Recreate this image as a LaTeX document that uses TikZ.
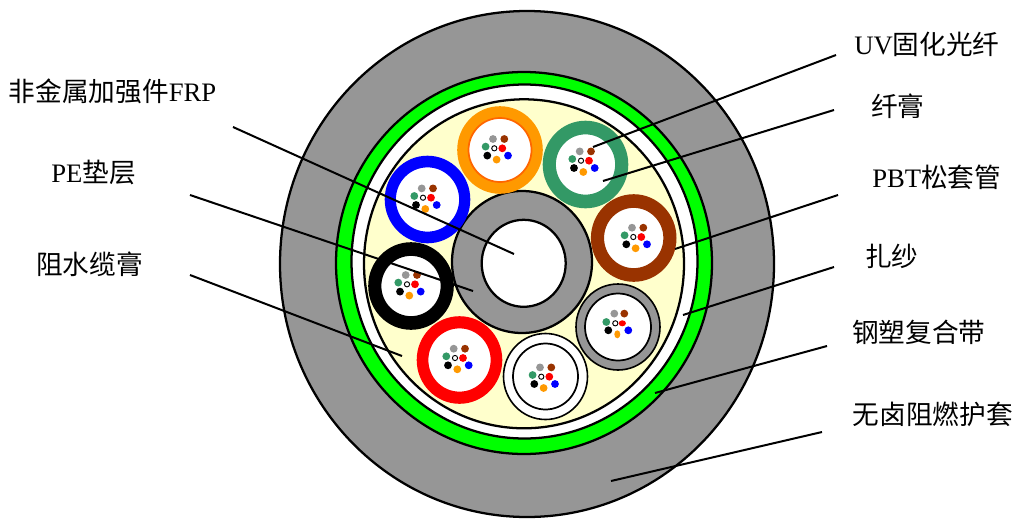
\documentclass[tikz,border=0pt]{standalone}
\usepackage{fontspec}
\setmainfont{Liberation Serif}
\newfontfamily\zh{Noto Sans CJK SC}
\usepackage{xcolor}
\usepackage{tikz}
\usetikzlibrary{shapes.geometric}
\definecolor{jacket}{RGB}{150,150,150}
\definecolor{tape}{RGB}{0,255,0}
\definecolor{gel}{RGB}{255,255,204}
\definecolor{torange}{RGB}{255,153,0}
\definecolor{tedge}{RGB}{255,102,0}
\definecolor{tgreen}{RGB}{51,153,102}
\definecolor{tbrown}{RGB}{153,51,0}
\definecolor{tblue}{RGB}{0,0,255}
\definecolor{tred}{RGB}{255,0,0}

\begin{document}
\begin{tikzpicture}[x=0.75pt,y=-0.75pt,
  layer/.style={ellipse,draw,line width=1.7pt,inner sep=0pt,outer sep=0pt},
  lbl/.style={anchor=base west,inner sep=0pt,font=\fontsize{20}{22}\selectfont},
  leader/.style={line width=1.5pt}]
  \useasboundingbox (0,0) rectangle (1013,518);
  % sheath, tape, gel
  \node[layer,fill=jacket,minimum width=494*0.75pt,minimum height=506*0.75pt] (JKT) at (527,264) {};
  \node[layer,fill=tape,minimum width=376*0.75pt,minimum height=382*0.75pt] (TAP) at (524,263) {};
  \node[layer,fill=white,minimum width=346*0.75pt,minimum height=354*0.75pt] (WRP) at (524.5,261.5) {};
  \node[layer,fill=gel,minimum width=320*0.75pt,minimum height=329*0.75pt] (GEL) at (524,263.8) {};
  % centre member
  \node[layer,fill=jacket,minimum width=140*0.75pt,minimum height=142*0.75pt] (PAD) at (522,262) {};
  \node[layer,fill=white,minimum width=84*0.75pt,minimum height=87*0.75pt] (FRP) at (523.7,263.3) {};
  % loose tubes: outer fill, outer edge, inner edge, inner width, fibre centre
  \foreach \n/\cx/\cy/\c/\e/\i/\w/\fx/\fy in {
      O/500/150/torange/torange/tedge/63/494.3/148.3,
      B/427.5/199.5/tblue/tblue/tblue/65/423/197.7,
      G/585.5/164.5/tgreen/tgreen/tgreen/61/581/160.7,
      N/633.7/238/tbrown/tbrown/tbrown/61/633.3/237,
      K/411/286/black/black/black/61/407/284.3,
      R/459.5/360/tred/tred/tred/64/455/358,
      W/545.5/376.5/white/black/black/65/541.3/376.7,
      A/618/327/jacket/black/black/66/615.3/323.3} {
    \node[ellipse,inner sep=0pt,fill=\c,draw=\e,line width=1.2pt,minimum width=84*0.75pt,minimum height=86*0.75pt] (T\n) at (\cx,\cy) {};
    \node[ellipse,inner sep=0pt,fill=white,draw=\i,line width=1.3pt,minimum width=\w*0.75pt,minimum height=(\w+1)*0.75pt] (I\n) at (\cx,\cy) {};
    \draw[fill=white,line width=0.7pt] (\fx,\fy) circle (2.6);
  }
  % fibres
  \foreach \fx/\fy in {494.3/148.3,423/197.7,581/160.7,633.3/237,407/284.3,455/358,541.3/376.7} {
    \foreach \dx/\dy/\c in {-1.3/-9.3/jacket,10/-9.3/tbrown,-8.7/-1.7/tgreen,8/0/tred,-7/7.3/black,2.3/11.3/torange,13.7/7.3/tblue} {
      \fill[\c] (\fx+\dx,\fy+\dy) circle (3.9);
    }
  }
  % fibres of the grey tube are squeezed
  \foreach \dx/\dy/\c/\rx/\ry in {-1/-9.7/jacket/3.9/3.9,9/-9.7/tbrown/3.9/3.9,-9/-1.3/tgreen/3.9/3.9,7/0/tred/3.6/3,-7/7/black/3.9/3.9,2/11/torange/3/4,13/7/tblue/3.9/3.9} {
    \fill[\c] (615.3+\dx,323.3+\dy) ellipse ({\rx} and {\ry});
  }
  % labels
  \node[lbl] (LFRP) at (8.5,101.5) {{\zh 非金属加强件}FRP};
  \node[lbl] (LPE) at (51,182.5) {PE{\zh 垫层}};
  \node[lbl] (LGEL) at (36,274.5) {{\zh 阻水缆膏}};
  \node[lbl] (LUV) at (854,54.5) {UV{\zh 固化光纤}};
  \node[lbl] (LFIB) at (871,116.5) {{\zh 纤膏}};
  \node[lbl] (LPBT) at (872,187.5) {PBT{\zh 松套管}};
  \node[lbl] (LYRN) at (865,266.5) {{\zh 扎纱}};
  \node[lbl] (LTAP) at (852,342.5) {{\zh 钢塑复合带}};
  \node[lbl] (LJKT) at (852.5,424.5) {{\zh 无卤阻燃护套}};
  % leaders
  \foreach \a/\ax/\ay/\bx/\by in {
      FRP/233/127/514/254,PE/190/195/473/291,GEL/190/275/402/356,
      UV/836/55/593/147,FIB/834/110/603/181,PBT/838/195/675/249,
      YRN/834/267/683/315,TAP/827/346/655/393,JKT/822/432/611/481} {
    \coordinate (S\a) at (\ax,\ay);
    \coordinate (E\a) at (\bx,\by);
    \draw[leader] (S\a) -- (E\a);
  }
\end{tikzpicture}
\end{document}
